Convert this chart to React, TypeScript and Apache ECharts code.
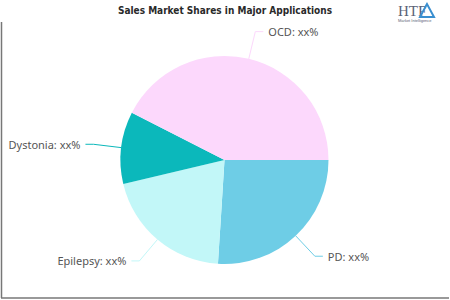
import React, { useEffect, useRef } from "react";
import * as echarts from "echarts";

const titleText = "Sales Market Shares in Major Applications";
const categories = ["PD", "Epilepsy", "Dystonia", "OCD"];
const values = [26, 20.3, 11.2, 42.5];
const colors = ["#6ecde6", "#c2f7f8", "#0bb8bb", "#fcd8fc"];
const labelSuffix = "xx%";

export default function App() {
  const ref = useRef<HTMLDivElement>(null);
  useEffect(() => {
    if (!ref.current) return;
    const chart = echarts.init(ref.current, null, { renderer: "svg" });
    chart.setOption({
      animation: false,
      backgroundColor: "#ffffff",
      title: {
        text: titleText,
        left: "center",
        top: 0,
        textStyle: {
          fontFamily: "'DejaVu Sans Condensed', sans-serif",
          fontWeight: "bold",
          fontSize: 10,
          color: "#2a2a2a",
        },
      },
      graphic: [
        { type: "line", shape: { x1: 1.5, y1: 22, x2: 1.5, y2: 298 }, style: { stroke: "#777777", lineWidth: 1.5 } },
        { type: "line", shape: { x1: 1, y1: 298, x2: 449, y2: 298 }, style: { stroke: "#777777", lineWidth: 1.5 } },
        {
          type: "text",
          x: 398,
          y: 3,
          style: { text: "HTF", fontFamily: "'Liberation Serif', serif", fontSize: 15, fill: "#5a6378" },
        },
        {
          type: "polygon",
          shape: { points: [[427, 4], [420, 17], [434, 17]] },
          style: { fill: "none", stroke: "#3a8fd0", lineWidth: 2 },
        },
        {
          type: "text",
          x: 398,
          y: 18,
          style: { text: "Market Intelligence", fontFamily: "'Liberation Sans', sans-serif", fontSize: 4, fill: "#5a6378" },
        },
      ],
      series: [
        {
          type: "pie",
          center: [224.5, 160],
          radius: 104,
          startAngle: 0,
          clockwise: true,
          color: colors,
          label: {
            show: true,
            formatter: (p: any) => `${p.name}: ${labelSuffix}`,
            fontFamily: "'Noto Sans', sans-serif",
            fontSize: 11,
            color: "#555555",
            overflow: "none",
            edgeDistance: 0,
          },
          labelLine: { show: true, length: 28, length2: 8, lineStyle: { width: 1 } },
          emphasis: { disabled: true },
          data: categories.map((c, i) => ({ name: c, value: values[i] })),
        },
      ],
    });
    return () => chart.dispose();
  }, []);
  return (
    <div
      ref={ref}
      style={{ position: "fixed", left: 0, top: 0, width: 450, height: 300 }}
    />
  );
}
